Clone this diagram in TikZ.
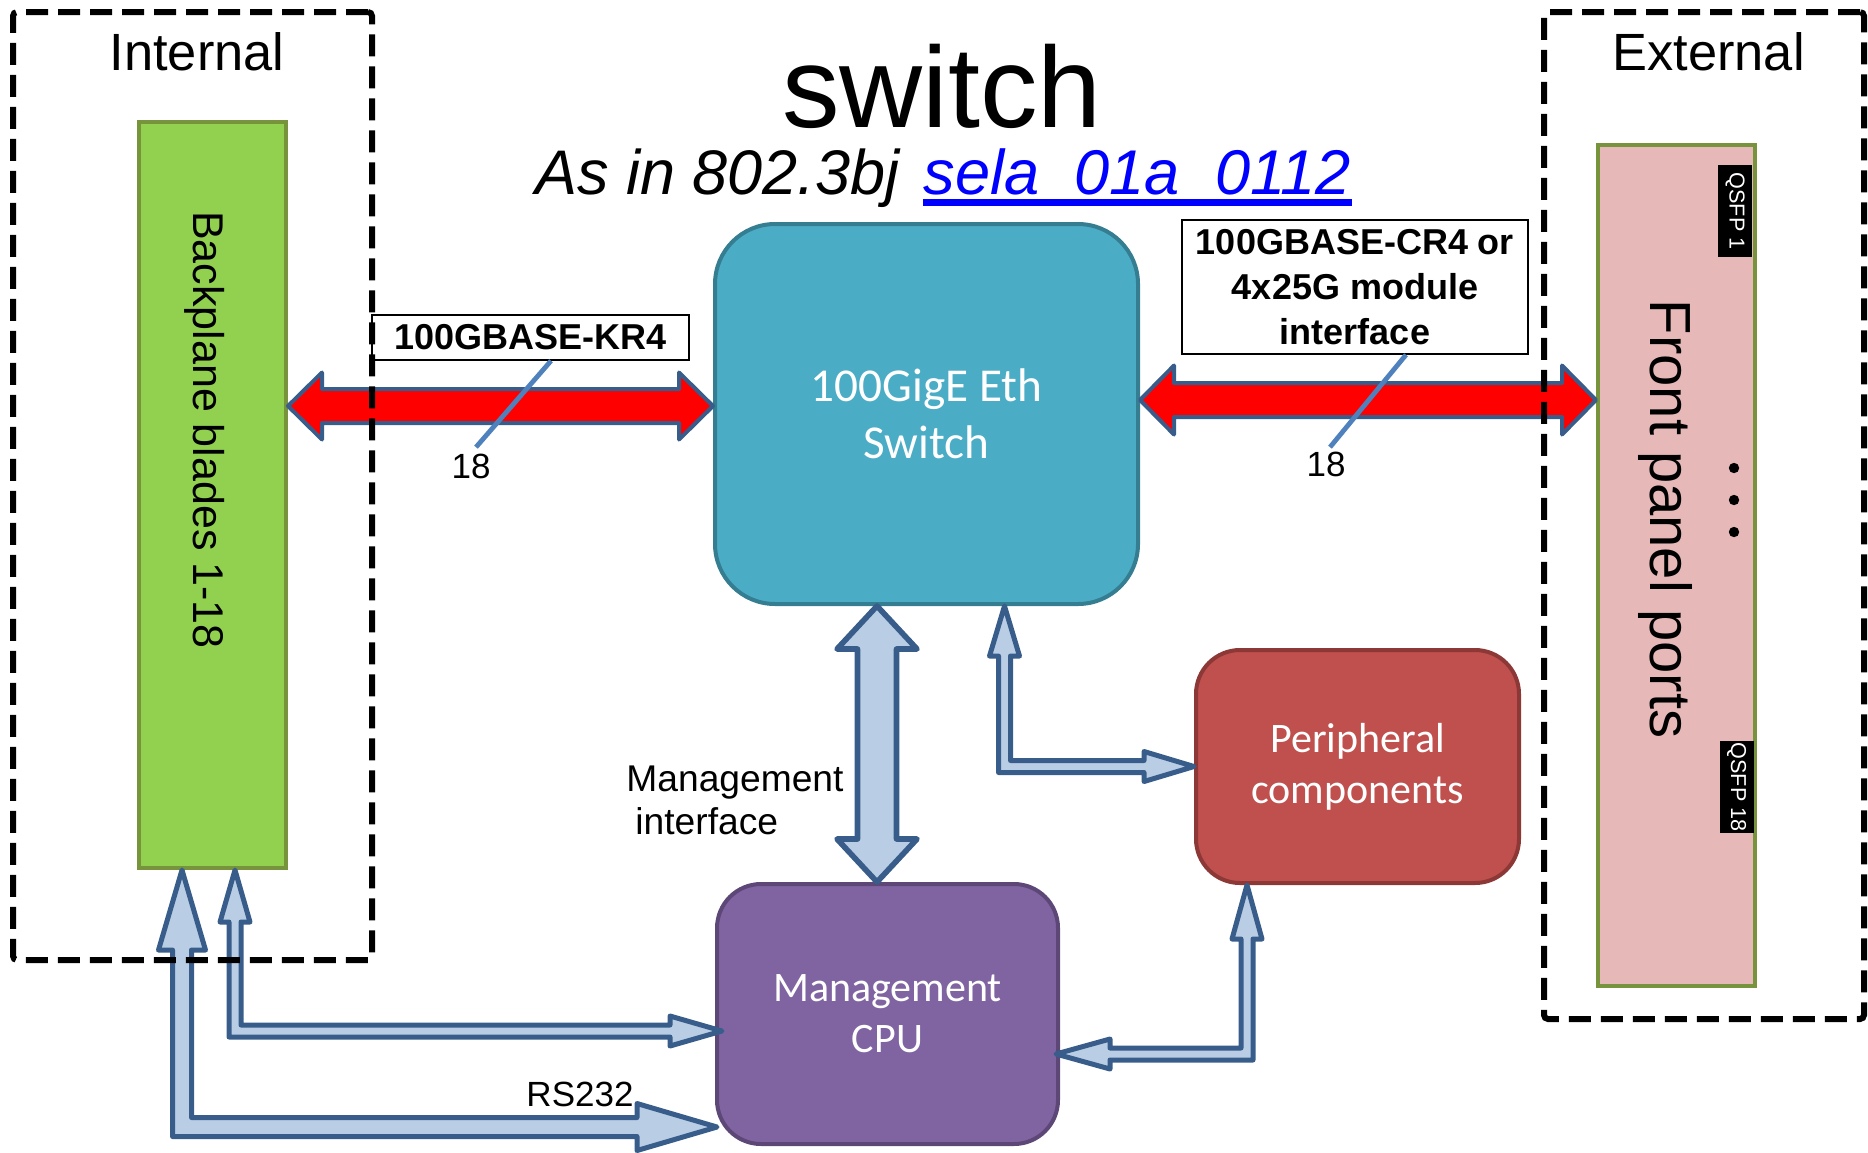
\documentclass[tikz,border=0pt]{standalone}
\usepackage{fontspec}
\setmainfont{Liberation Sans}
\newfontfamily\calibri{Carlito}
\usepackage{tikz}
\usetikzlibrary{calc}
\definecolor{bpgreen}{HTML}{92D050}
\definecolor{baredge}{HTML}{77933C}
\definecolor{fppink}{HTML}{E6B9B8}
\definecolor{swteal}{HTML}{4BACC6}
\definecolor{swedge}{HTML}{357D91}
\definecolor{perred}{HTML}{C0504D}
\definecolor{peredge}{HTML}{8C3836}
\definecolor{cpupurple}{HTML}{8064A2}
\definecolor{cpuedge}{HTML}{5C4776}
\definecolor{arrowfill}{HTML}{B9CDE5}
\definecolor{arrowedge}{HTML}{385D8A}
\definecolor{slashblue}{HTML}{4F81BD}
\definecolor{linkblue}{HTML}{0000FF}
\newcommand{\fsz}[2]{\fontsize{#1}{#2}\selectfont}
\tikzset{
  zone/.style={draw=black,line width=3pt,dash pattern=on 11pt off 5pt,
               rounded corners=2pt,inner sep=0},
  bar/.style={draw=baredge,line width=2pt,inner sep=0},
  unit/.style={line width=2pt,inner sep=0,align=center,text=white,
               font=\calibri\fsz{21}{25.6}},
  tagbox/.style={draw=black,line width=0.8pt,fill=white,inner sep=0,align=center,
                 font=\bfseries\fsz{18}{22.5}},
  qsfp/.style={fill=black,text=white,rotate=-90,minimum width=46pt,minimum height=17pt,
               inner sep=0,font=\fsz{10.8}{12}},
  lbl/.style={inner sep=0,font=\fsz{17.5}{21}},
  blkarrow/.style={draw=arrowedge,fill=arrowfill,line width=2.5pt,line join=round},
  redarrow/.style={draw=arrowedge,fill=red,line width=2pt,line join=round},
  slash/.style={draw=slashblue,line width=2.4pt},
}
% block arrows: tips, half shaft, half head, head length
\newcommand{\hdbl}[6][]{%
  \draw[#1] let \p1=(#2), \p2=(#3) in
    (\p1) -- ++(#6,#5) -- ++(0pt,#4-#5) -- ({\x2-#6},{\y1+#4}) -- ++(0pt,#5-#4)
    -- (\x2,\y1) -- ++(-#6,-#5) -- ++(0pt,#5-#4) -- ({\x1+#6},{\y1-#4})
    -- ++(0pt,#4-#5) -- cycle;}
\newcommand{\vdbl}[6][]{%
  \draw[#1] let \p1=(#2), \p2=(#3) in
    (\p1) -- ++(#5,-#6) -- ++(#4-#5,0pt) -- ({\x1+#4},{\y2+#6}) -- ++(#5-#4,0pt)
    -- (\x1,\y2) -- ++(-#5,#6) -- ++(#5-#4,0pt) -- ({\x1-#4},{\y1-#6})
    -- ++(#4-#5,0pt) -- cycle;}
\newcommand{\elbow}[7][]{%
  \draw[#1] let \p1=(#2), \p2=(#3) in
    (\p1) -- ({\x1+(#4)*#6},{\y1-#7}) -- ({\x1+(#4)*#5},{\y1-#7})
    -- ({\x1+(#4)*#5},{\y2+#5}) -- ({\x2-(#4)*#7},{\y2+#5}) -- ({\x2-(#4)*#7},{\y2+#6})
    -- (\p2) -- ({\x2-(#4)*#7},{\y2-#6}) -- ({\x2-(#4)*#7},{\y2-#5})
    -- ({\x1-(#4)*#5},{\y2-#5}) -- ({\x1-(#4)*#5},{\y1-#7}) -- ({\x1-(#4)*#6},{\y1-#7})
    -- cycle;}

\begin{document}
\begin{tikzpicture}[x=1pt,y=1pt]
  \useasboundingbox (0,0) rectangle (934,-576);

  % ---------------- blades and front panel ----------------
  \node[bar,fill=bpgreen,minimum width=73.5pt,minimum height=373pt] (bp) at (106.25,-247.5) {};
  \node[rotate=-90,inner sep=0,font=\fsz{21.5}{26}] (bptxt) at (102.5,-215) {Backplane blades 1-18};
  \node[bar,fill=fppink,minimum width=78.5pt,minimum height=420.5pt] (fp) at (838.25,-282.75) {};
  \node[rotate=-90,inner sep=0,font=\fsz{29}{34}] (fptxt) at (832.5,-259.5) {Front panel ports};
  \node[qsfp] (q1) at (867.5,-105.5) {QSFP 1};
  \node[qsfp] (q18) at (868.25,-393.5) {QSFP 18};
  \foreach \d in {234,250,266}
    \fill (867,-\d) circle (2.6pt);

  % ---------------- title ----------------
  \node[anchor=base,inner sep=0,font=\fsz{57.5}{62}] (ttl) at (470.9,-63.5) {switch};
  \node[anchor=base west,inner sep=0,font=\itshape\fsz{31.5}{36}] (sub) at (267.5,-97) {As in 802.3bj};
  \node[anchor=base west,inner sep=0,text=linkblue,font=\itshape\fsz{31.6}{36}] (lnk) at (461.6,-97) {sela\_01a\_0112};
  \draw[linkblue,line width=3.3pt] ([yshift=-4.3pt]lnk.base west) -- ([yshift=-4.3pt]lnk.base east);

  % ---------------- blocks ----------------
  \node[unit,fill=swteal,draw=swedge,rounded corners=30pt,minimum width=211.5pt,minimum height=190pt,
        font=\calibri\fsz{23.6}{28.6}] (sw) at (463.25,-207) {100GigE Eth\\Switch};
  \node[unit,fill=perred,draw=peredge,rounded corners=22pt,minimum width=161.5pt,minimum height=116.5pt]
    (per) at (678.75,-383.25) {Peripheral\\components};
  \node[unit,fill=cpupurple,draw=cpuedge,rounded corners=22pt,minimum width=170.5pt,minimum height=130pt]
    (cpu) at (443.75,-507) {Management\\CPU};

  % ---------------- links ----------------
  \hdbl[redarrow]{[yshift=44.5pt]bp.east}{[yshift=4pt]sw.west}{8.5pt}{16.75pt}{17pt}
  \hdbl[redarrow]{[yshift=7pt]sw.east}{[yshift=82.75pt]fp.west}{8.5pt}{17.25pt}{17pt}

  \vdbl[blkarrow,line width=2.8pt]{[xshift=-24.75pt]sw.south}{[xshift=-5.25pt]cpu.north}{9.75pt}{20pt}{21.5pt}
  \elbow[blkarrow]{[xshift=39pt]sw.south}{per.west}{1}{3pt}{7.5pt}{25pt}
  \elbow[blkarrow]{[xshift=-55.25pt]per.south}{[shift={(-2pt,-20pt)}]cpu.east}{-1}{3pt}{7.5pt}{27pt}
  \elbow[blkarrow]{[xshift=11.25pt]bp.south}{[shift={(3.5pt,-8.5pt)}]cpu.west}{1}{3pt}{7.5pt}{26pt}
  \elbow[blkarrow]{[xshift=-15.25pt]bp.south}{[shift={(1pt,-56.5pt)}]cpu.west}{1}{4.75pt}{11.75pt}{40pt}

  % ---------------- labels ----------------
  \node[tagbox,minimum width=158.5pt,minimum height=22.5pt] (kr4) at (265.25,-168.75) {100GBASE-KR4};
  \node[tagbox,minimum width=173pt,minimum height=67pt] (cr4) at (677.5,-143.5)
    {100GBASE-CR4 or\\4x25G module\\interface};
  \node[lbl,anchor=base] (n18l) at (235.5,-239) {18};
  \node[lbl,anchor=base] (n18r) at (663,-238) {18};
  \draw[slash] ([xshift=10.25pt]kr4.south) -- ([shift={(2.5pt,3pt)}]n18l.north);
  \draw[slash] ([xshift=25.5pt]cr4.south) -- ([shift={(2pt,2pt)}]n18r.north);
  \node[lbl,anchor=north west,align=left,font=\fsz{18.6}{21.75}] (mif) at (313,-382.7)
    {Management\\\hspace*{4.5pt}interface};
  \node[lbl,anchor=base] (rs) at (290,-553.2) {RS232};

  % ---------------- zones ----------------
  \node[zone,minimum width=179.5pt,minimum height=474pt] (intz) at (96.25,-243) {};
  \node[zone,minimum width=160pt,minimum height=503.5pt] (extz) at (852,-257.75) {};
  \node[anchor=base,inner sep=0,font=\fsz{26.2}{30}] (intl) at (98.5,-35.3) {Internal};
  \node[anchor=base,inner sep=0,font=\fsz{26.2}{30}] (extl) at (854.3,-35.3) {External};
\end{tikzpicture}
\end{document}
